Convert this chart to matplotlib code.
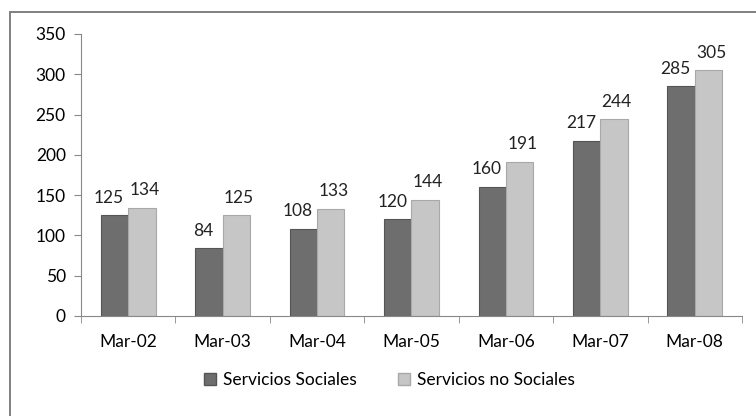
import numpy as np
import matplotlib.pyplot as plt
from matplotlib.patches import Rectangle, Patch

# Datos
categorias = ["Mar-02", "Mar-03", "Mar-04", "Mar-05", "Mar-06", "Mar-07", "Mar-08"]
sociales = [125, 84, 108, 120, 160, 217, 285]
no_sociales = [134, 125, 133, 144, 191, 244, 305]

color_soc = "#6e6e6e"
color_nosoc = "#c6c6c6"

plt.rcParams["font.family"] = ["Lato", "DejaVu Sans"]

fig = plt.figure(figsize=(7.56, 4.16), dpi=100)
# marco exterior (solo se ven borde superior e izquierdo)
fig.patches.append(Rectangle((10 / 756, -10 / 416), 760 / 756, 414 / 416,
                             transform=fig.transFigure, fill=False,
                             edgecolor="#808080", linewidth=1.4))

ax = fig.add_axes([81 / 756, 100 / 416, 661 / 756, 282 / 416])

x = np.arange(len(categorias))
w = 0.29

b1 = ax.bar(x - w / 2, sociales, w, color=color_soc, edgecolor="#555555",
            linewidth=0.8, label="Servicios Sociales")
b2 = ax.bar(x + w / 2, no_sociales, w, color=color_nosoc, edgecolor="#a8a8a8",
            linewidth=0.8, label="Servicios no Sociales")

# etiquetas de datos
for bars, vals, dx in [(b1, sociales, -4), (b2, no_sociales, 2)]:
    for b, v in zip(bars, vals):
        ax.annotate(str(v), (b.get_x() + b.get_width() / 2, v),
                    xytext=(dx, 7), textcoords="offset points",
                    ha="center", va="bottom", fontsize=12.5, color="#222222")

ax.set_xlim(-0.5, len(categorias) - 0.5)
ax.set_ylim(0, 350)
ax.set_yticks(range(0, 351, 50))
ax.set_xticks(x)
ax.set_xticklabels(categorias)
ax.set_xticks(np.arange(-0.5, len(categorias)), minor=True)
ax.tick_params(axis="x", which="major", length=0, pad=13, labelsize=12.5)
ax.tick_params(axis="x", which="minor", length=5, color="#888888")
ax.tick_params(axis="y", length=5, color="#888888", labelsize=12.5, pad=6)

for s in ["top", "right"]:
    ax.spines[s].set_visible(False)
for s in ["left", "bottom"]:
    ax.spines[s].set_color("#888888")

handles = [Patch(facecolor=color_soc, edgecolor="#555555"),
           Patch(facecolor=color_nosoc, edgecolor="#a8a8a8")]
fig.legend(handles, ["Servicios Sociales", "Servicios no Sociales"],
           loc="center", bbox_to_anchor=(0.515, 36 / 416), ncol=2,
           frameon=False, fontsize=12.5, handlelength=0.7, handleheight=0.7,
           columnspacing=2.4, handletextpad=0.4)

fig.savefig("out.png", dpi=100)
